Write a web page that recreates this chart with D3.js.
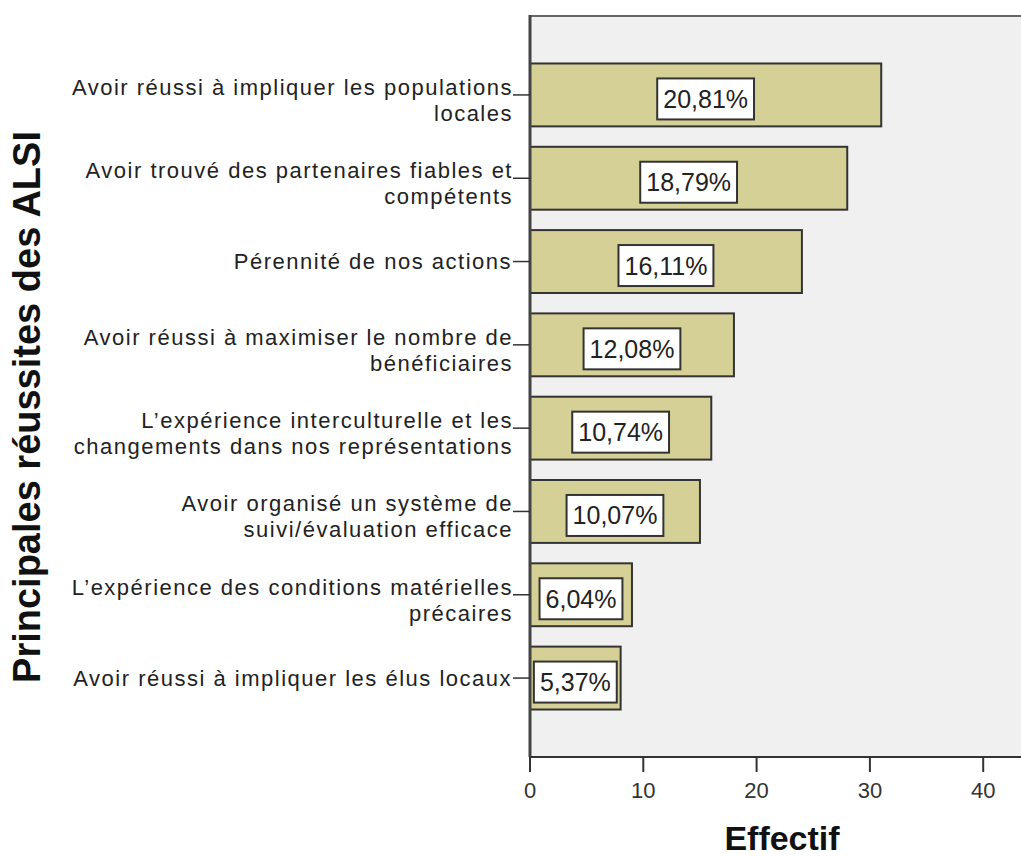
<!DOCTYPE html>
<html>
<head>
<meta charset="utf-8">
<script src="https://cdn.jsdelivr.net/npm/d3@7"></script>
<style>
  body { margin: 0; background: #fff; }
  .cat { font-family: "Liberation Sans", Arial, sans-serif; font-size: 22px; letter-spacing: 1.5px; fill: #222; }
  .tick-lbl { font-family: "Liberation Sans", Arial, sans-serif; font-size: 22px; fill: #333; }
  .pct { font-family: "Liberation Sans", Arial, sans-serif; font-size: 25px; fill: #222; }
  .title { font-family: "Liberation Sans", Arial, sans-serif; font-weight: bold; fill: #111; }
</style>
</head>
<body>
<div id="chart"></div>
<script>
const WIDTH = 1021, HEIGHT = 856;
const M = { top: 16, left: 530, bottom: 757 };

// data
const categories = [
  "Avoir réussi à impliquer les populations\nlocales",
  "Avoir trouvé des partenaires fiables et\ncompétents",
  "Pérennité de nos actions",
  "Avoir réussi à maximiser le nombre de\nbénéficiaires",
  "L’expérience interculturelle et les\nchangements dans nos représentations",
  "Avoir organisé un système de\nsuivi/évaluation efficace",
  "L’expérience des conditions matérielles\nprécaires",
  "Avoir réussi à impliquer les élus locaux"
];
const counts = [31, 28, 24, 18, 16, 15, 9, 8];
const pctLabels = ["20,81%", "18,79%", "16,11%", "12,08%", "10,74%", "10,07%", "6,04%", "5,37%"];
const xTicks = [0, 10, 20, 30, 40];

const rows = categories.map((c, i) => ({ cat: c, n: counts[i], pct: pctLabels[i] }));

const svg = d3.select("#chart").append("svg")
  .attr("width", WIDTH).attr("height", HEIGHT);

const x = d3.scaleLinear().domain([0, 45]).range([M.left, M.left + 45 * 11.33]);
const y = d3.scaleBand()
  .domain(categories)
  .range([M.top, M.bottom])
  .paddingInner(0.245).paddingOuter(0.57);

// plot background
svg.append("rect")
  .attr("x", M.left).attr("y", M.top)
  .attr("width", WIDTH - M.left + 10).attr("height", M.bottom - M.top)
  .attr("fill", "#f0f0f0");
svg.append("line")
  .attr("x1", M.left).attr("x2", WIDTH).attr("y1", M.top).attr("y2", M.top)
  .attr("stroke", "#666").attr("stroke-width", 2);

// bars
svg.selectAll(".bar").data(rows).join("rect")
  .attr("class", "bar")
  .attr("x", x(0))
  .attr("y", d => y(d.cat))
  .attr("width", d => x(d.n) - x(0))
  .attr("height", y.bandwidth())
  .attr("fill", "#d4d096")
  .attr("stroke", "#333")
  .attr("stroke-width", 2);

// percent boxes
const lab = svg.selectAll(".lab").data(rows).join("g").attr("class", "lab")
  .attr("transform", d => `translate(${(x(0) + x(d.n)) / 2},${y(d.cat) + y.bandwidth() / 2 + 4})`);
lab.append("rect").attr("class", "box");
lab.append("text").attr("class", "pct")
  .attr("text-anchor", "middle").attr("dy", "0.36em")
  .text(d => d.pct);
lab.each(function () {
  const g = d3.select(this);
  const w = g.select("text").node().getComputedTextLength() + 12;
  g.select("rect")
    .attr("x", -w / 2).attr("y", -20.5)
    .attr("width", w).attr("height", 41)
    .attr("fill", "#fff").attr("stroke", "#333").attr("stroke-width", 2);
});

// y axis: line, ticks, labels
svg.append("line")
  .attr("x1", M.left).attr("x2", M.left).attr("y1", M.top - 1).attr("y2", M.bottom)
  .attr("stroke", "#444").attr("stroke-width", 3);

const cats = svg.selectAll(".catg").data(rows).join("g").attr("class", "catg")
  .attr("transform", d => `translate(0,${y(d.cat) + y.bandwidth() / 2})`);
cats.append("line")
  .attr("x1", 513).attr("x2", M.left).attr("y1", 0).attr("y2", 0)
  .attr("stroke", "#333").attr("stroke-width", 1.5);
cats.each(function (d) {
  const lines = d.cat.split("\n");
  const t = d3.select(this).append("text").attr("class", "cat")
    .attr("text-anchor", "end");
  if (lines.length === 1) {
    t.append("tspan").attr("x", 512).attr("y", 7.5).text(lines[0]);
  } else {
    t.append("tspan").attr("x", 513).attr("y", 0).text(lines[0]);
    t.append("tspan").attr("x", 513).attr("y", 26).text(lines[1]);
  }
});

// x axis
svg.append("line")
  .attr("x1", M.left).attr("x2", WIDTH).attr("y1", M.bottom).attr("y2", M.bottom)
  .attr("stroke", "#333").attr("stroke-width", 2);
const xt = svg.selectAll(".xt").data(xTicks).join("g").attr("class", "xt")
  .attr("transform", d => `translate(${x(d)},${M.bottom})`);
xt.append("line").attr("y1", 0).attr("y2", 15)
  .attr("stroke", "#333").attr("stroke-width", 2);
xt.append("text").attr("class", "tick-lbl")
  .attr("text-anchor", "middle").attr("y", 41)
  .text(d => d);

// titles
svg.append("text").attr("class", "title")
  .attr("x", 782).attr("y", 850)
  .attr("text-anchor", "middle")
  .style("font-size", "34px")
  .text("Effectif");

svg.append("text").attr("class", "title")
  .attr("transform", "translate(40,407) rotate(-90)")
  .attr("text-anchor", "middle")
  .style("font-size", "38px")
  .text("Principales réussites des ALSI");
</script>
</body>
</html>
